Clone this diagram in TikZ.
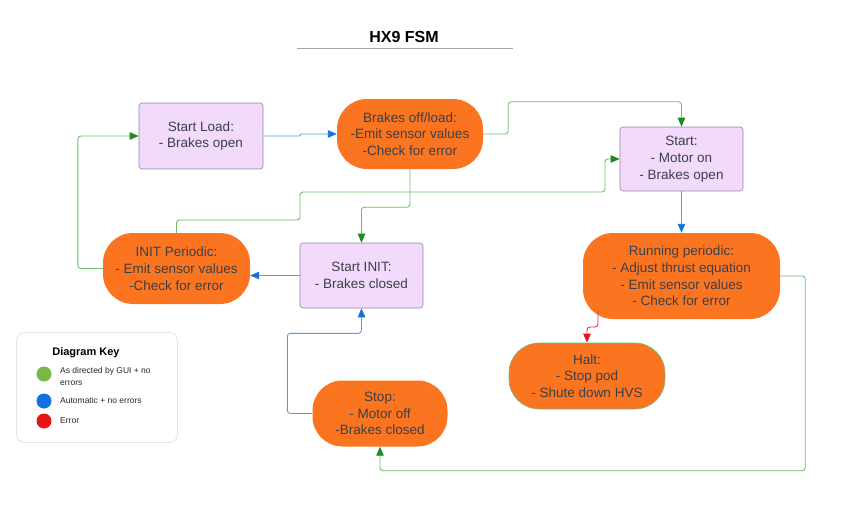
\documentclass[tikz,border=0pt]{standalone}
\usepackage{fontspec}
\setmainfont{Liberation Sans}
\usetikzlibrary{arrows.meta}
\definecolor{lucidorange}{HTML}{FB7521}
\definecolor{lucidlilac}{HTML}{F1DAFC}
\definecolor{lilacedge}{HTML}{8E8A9C}
\definecolor{labelgray}{HTML}{3C3F46}
\definecolor{gnline}{HTML}{6DBE6D}
\definecolor{gnhead}{HTML}{1B8E1B}
\definecolor{blline}{HTML}{5A9BE0}
\definecolor{blhead}{HTML}{1570E6}
\definecolor{rdline}{HTML}{E0343C}
\definecolor{rdhead}{HTML}{E8141C}
\definecolor{keygreen}{HTML}{7AB648}
\definecolor{keyblue}{HTML}{1071E5}
\definecolor{keyred}{HTML}{E81416}
\begin{document}
\begin{tikzpicture}[x=1pt,y=-1pt,
  font=\fontsize{13.5}{16.7}\selectfont,
  entry/.style={draw=lilacedge,fill=lucidlilac,line width=0.6pt,rounded corners=3pt,
    text=labelgray,align=center,inner sep=0pt},
  periodic/.style={fill=lucidorange,rounded corners=30pt,text=labelgray,align=center,inner sep=0pt},
  guiline/.style={draw=gnline,line width=0.9pt,rounded corners=3pt,
    -{Triangle[length=9pt,width=7.5pt,color=gnhead]}},
  autoline/.style={draw=blline,line width=0.9pt,rounded corners=3pt,
    -{Triangle[length=9pt,width=7.5pt,color=blhead]}},
  errline/.style={draw=rdline,line width=0.9pt,rounded corners=3pt,
    -{Triangle[length=9pt,width=7.5pt,color=rdhead]}},
  keydot/.style={circle,inner sep=0pt,minimum size=15pt}]
\useasboundingbox (0,0) rectangle (849,517);
% title
\node[font=\fontsize{16}{19}\selectfont\bfseries] (title) at (404,37) {HX9 FSM};
\draw[gray!70,line width=0.7pt] (297,48) -- (513,48);
% states
\node[entry,minimum width=124pt,minimum height=66pt] (sload) at (201,136) {Start Load:\\- Brakes open};
\node[periodic,minimum width=146pt,minimum height=70pt] (brk) at (410,134) {Brakes off/load:\\-Emit sensor values\\-Check for error};
\node[entry,minimum width=123pt,minimum height=64pt] (start) at (681.5,159) {Start:\\- Motor on\\- Brakes open};
\node[periodic,minimum width=147pt,minimum height=71pt] (initp) at (176.5,268.5) {INIT Periodic:\\- Emit sensor values\\-Check for error};
\node[entry,minimum width=123pt,minimum height=65pt] (sinit) at (361.5,275.5) {Start INIT:\\- Brakes closed};
\node[periodic,minimum width=197pt,minimum height=86pt] (run) at (681.5,276) {Running periodic:\\- Adjust thrust equation\\- Emit sensor values\\- Check for error};
\node[periodic,draw=gnline,line width=0.6pt,minimum width=156pt,minimum height=66pt] (halt) at (587,376) {Halt:\\- Stop pod\\- Shute down HVS};
\node[periodic,minimum width=135pt,minimum height=66pt] (stop) at (380,413.5) {Stop:\\- Motor off\\-Brakes closed};
% key
\node[draw=gray!22,line width=0.8pt,rounded corners=8pt,minimum width=161pt,minimum height=110pt] (keybox) at (97,387.5) {};
\node[font=\fontsize{11}{13}\selectfont\bfseries] (keytitle) at (86,353) {Diagram Key};
\node[keydot,fill=keygreen] (kgui) at (44,374) {};
\node[keydot,fill=keyblue] (kauto) at (44,401) {};
\node[keydot,fill=keyred] (kerr) at (44,421) {};
\begin{scope}[font=\fontsize{8.5}{11.3}\selectfont,text=black!85,align=left,inner sep=0pt]
\node[anchor=west] (tgui) at (60,376.5) {As directed by GUI + no\\errors};
\node[anchor=west] (tauto) at (60,400.5) {Automatic + no errors};
\node[anchor=west] (terr) at (60,420.5) {Error};
\end{scope}
% transitions
\coordinate (redstart) at (598,311);
\draw[guiline] (initp.west) -- ++(-25,0) |- (sload.west);
\draw[autoline,rounded corners=1pt] (sload.east) -- ++(37,0) |- (brk.west);
\draw[guiline] (brk.east) -- ++(25,0) |- ([yshift=25pt]start.north) -- (start.north);
\draw[guiline] (brk.south) -- ++(0,38) -| (sinit.north);
\draw[guiline] (initp.north) |- (300,220) |- (605,192) |- (start.west);
\draw[autoline] (start.south) -- (run.north);
\draw[autoline] (sinit.west) -- (sinit.west -| initp.east);
\draw[autoline] (stop.west) -- ++(-25,0) |- ([yshift=-25pt]sinit.south) -- (sinit.south);
\draw[guiline] (run.east) -- ++(25,0) |- ([yshift=-24pt]stop.south) -- (stop.south);
\draw[errline] (redstart) -- ++(0,16) -| (halt.north);
\end{tikzpicture}
\end{document}
